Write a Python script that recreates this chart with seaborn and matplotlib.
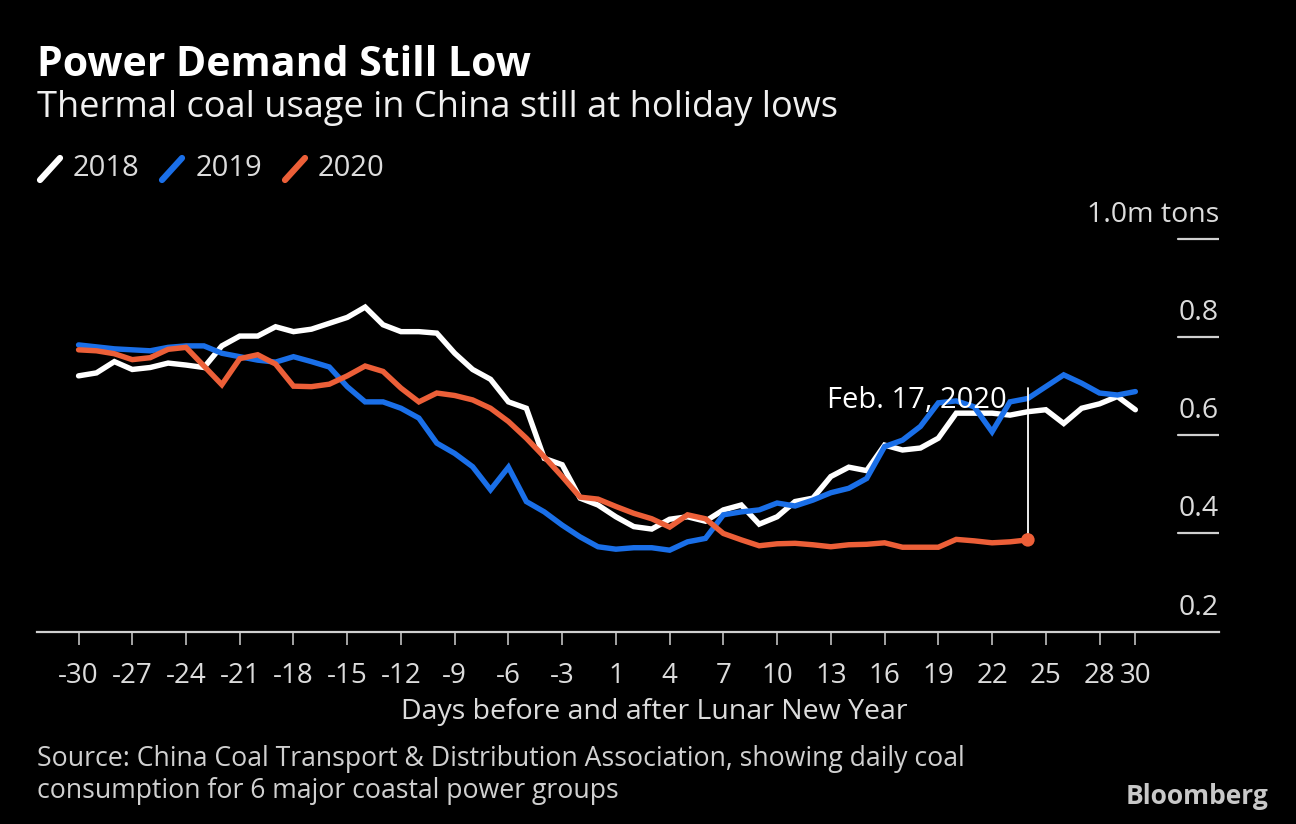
import numpy as np
import pandas as pd
import matplotlib
matplotlib.use("Agg")
import matplotlib.pyplot as plt
from matplotlib.lines import Line2D
from matplotlib.transforms import offset_copy
import seaborn as sns

# ---------------- data ----------------
days = list(range(-30, 0)) + list(range(1, 31))
tick_days = [-30, -27, -24, -21, -18, -15, -12, -9, -6, -3, 1, 4, 7, 10, 13, 16, 19, 22, 25, 28, 30]

years = ["2018", "2019", "2020"]
colors = ["#ffffff", "#1a6fe8", "#ec5f38"]

v2018 = [0.721, 0.727, 0.750, 0.734, 0.738, 0.747, 0.743, 0.738, 0.782, 0.802,
         0.802, 0.821, 0.811, 0.816, 0.828, 0.840, 0.861, 0.825, 0.811, 0.811,
         0.808, 0.767, 0.734, 0.714, 0.668, 0.655, 0.553, 0.540, 0.472, 0.458,
         0.434, 0.414, 0.409, 0.429, 0.434, 0.425, 0.448, 0.458, 0.419, 0.434,
         0.465, 0.472, 0.516, 0.535, 0.528, 0.580, 0.570, 0.574, 0.594, 0.645,
         0.645, 0.645, 0.641, 0.648, 0.652, 0.624, 0.655, 0.664, 0.679, 0.652]
v2019 = [0.784, 0.780, 0.776, 0.774, 0.772, 0.779, 0.782, 0.782, 0.767, 0.760,
         0.753, 0.749, 0.760, 0.750, 0.739, 0.699, 0.668, 0.668, 0.655, 0.635,
         0.584, 0.563, 0.536, 0.489, 0.535, 0.465, 0.444, 0.417, 0.393, 0.373,
         0.368, 0.371, 0.371, 0.366, 0.383, 0.390, 0.438, 0.444, 0.448, 0.462,
         0.456, 0.468, 0.483, 0.492, 0.512, 0.577, 0.590, 0.618, 0.666, 0.670,
         0.658, 0.607, 0.668, 0.675, 0.699, 0.723, 0.706, 0.686, 0.682, 0.689]
v2020 = [0.774, 0.772, 0.766, 0.754, 0.758, 0.775, 0.779, 0.741, 0.703, 0.756,
         0.764, 0.745, 0.700, 0.699, 0.704, 0.721, 0.741, 0.730, 0.696, 0.668,
         0.686, 0.681, 0.672, 0.655, 0.628, 0.594, 0.556, 0.516, 0.474, 0.470,
         0.455, 0.441, 0.430, 0.413, 0.438, 0.430, 0.400, 0.387, 0.375, 0.379,
         0.380, 0.377, 0.373, 0.377, 0.378, 0.381, 0.372, 0.372, 0.372, 0.388,
         0.385, 0.381, 0.383, 0.387]

y_ticks = [0.2, 0.4, 0.6, 0.8, 1.0]
y_labels = ["0.2", "0.4", "0.6", "0.8", "1.0m tons"]
annot_label = "Feb. 17, 2020"

title = "Power Demand Still Low"
subtitle = "Thermal coal usage in China still at holiday lows"
xlabel = "Days before and after Lunar New Year"
source = ("Source: China Coal Transport & Distribution Association, showing daily coal\n"
          "consumption for 6 major coastal power groups")

# ---------------- frame ----------------
sns.set_theme(style="dark")
plt.rcParams["font.family"] = ["Open Sans", "DejaVu Sans"]

W, H = 1296, 824
fig = plt.figure(figsize=(W / 100, H / 100), dpi=100, facecolor="black")
ax_left, ax_right, ax_bottom, ax_top = 37, 1219, 631.7, 230
ax = fig.add_axes([ax_left / W, 1 - ax_bottom / H, (ax_right - ax_left) / W, (ax_bottom - ax_top) / H])
ax.set_facecolor("black")

pos = {d: i for i, d in enumerate(days)}
rows = []
for yr, vals in zip(years, [v2018, v2019, v2020]):
    for d, v in zip(days, vals):
        rows.append({"pos": pos[d], "value": v, "year": yr})
df = pd.DataFrame(rows)

sns.lineplot(data=df, x="pos", y="value", hue="year", hue_order=years,
             palette=dict(zip(years, colors)), linewidth=3.9, legend=False,
             ax=ax, sort=False, solid_joinstyle="miter")

ax.set_xlim(-2.32, 63.67)
ax.set_ylim(0.2, 1.018)

# annotation on last 2020 point
last_x = pos[days[len(v2020) - 1]]
last_v = v2020[-1]
ax.plot([last_x, last_x], [last_v, 0.696], color="white", lw=1.3, zorder=4)
ax.scatter([last_x], [last_v], s=95, color=colors[2], zorder=6, edgecolor="none")
ax.text(last_x, 0.655, annot_label, ha="right", va="baseline", color="white", fontsize=21,
        zorder=7, transform=offset_copy(ax.transData, fig=fig, x=-21, y=0, units="dots"))

# y axis labels + short gridlines on right
lab_tr = offset_copy(ax.get_yaxis_transform(), fig=fig, x=0, y=17, units="dots")
for v, lab in zip(y_ticks, y_labels):
    if v > 0.2:
        ax.axhline(v, xmin=(1178 - ax_left) / (ax_right - ax_left), xmax=1.0, color="#d0d0d0", lw=1.6)
    ax.text(1.0, v, lab, ha="right", va="baseline", color="#dcdcdc", fontsize=20.5, transform=lab_tr)
ax.set_yticks([])
ax.set_ylabel("")

# x axis
for s in ["top", "left", "right"]:
    ax.spines[s].set_visible(False)
ax.spines["bottom"].set_color("#d0d0d0")
ax.spines["bottom"].set_linewidth(1.6)
ax.set_xticks([pos[d] for d in tick_days], [str(d) for d in tick_days])
ax.tick_params(axis="x", bottom=True, length=9, width=1.1, color="#d0d0d0",
               labelsize=20, labelcolor="#dcdcdc", pad=12.5, direction="out")
ax.set_xlabel("")
ax.grid(False)

fig.text(654 / W, 1 - 712 / H, xlabel, ha="center", va="center", fontsize=20.5, color="#dcdcdc")

# titles
fig.text(37 / W, 1 - 65 / H, title, ha="left", va="center", fontsize=29.5, fontweight="bold", color="white")
fig.text(37 / W, 1 - 108 / H, subtitle, ha="left", va="center", fontsize=26, color="#f0f0f0")

# legend
leg_items = [(38, 73), (160, 196), (283, 318)]
for (lx, tx), yr, c in zip(leg_items, years, colors):
    fig.add_artist(Line2D([(lx + 2) / W, (lx + 22) / W], [1 - 180 / H, 1 - 158 / H],
                          color=c, lw=4.5, transform=fig.transFigure))
    fig.text(tx / W, 1 - 169 / H, yr, ha="left", va="center", fontsize=21, color="#dcdcdc")

# source and logo
fig.text(37 / W, 1 - 775 / H, source, ha="left", va="center", fontsize=19.2, color="#d0d0d0", linespacing=1.2)
fig.text(1268 / W, 1 - 797 / H, "Bloomberg", ha="right", va="center", fontsize=19,
         fontweight="bold", color="#c8c8c8")

fig.savefig("out.png", dpi=100, facecolor="black")
